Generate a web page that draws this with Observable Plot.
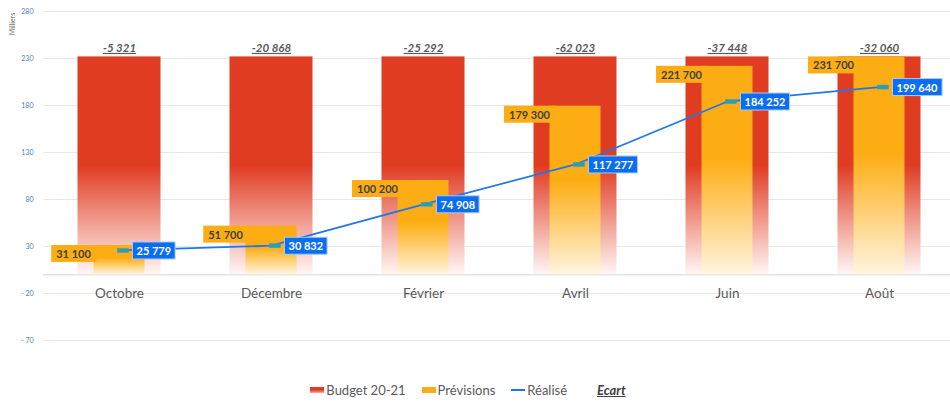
<!DOCTYPE html>
<html>
<head>
<meta charset="utf-8">
<script src="https://cdn.jsdelivr.net/npm/d3@7"></script>
<script src="https://cdn.jsdelivr.net/npm/@observablehq/plot@0.6"></script>
<style>
  body { margin: 0; background: #fff; font-family: Lato, sans-serif; }
  #chart svg { display: block; }
  #legend { height: 31px; display: flex; align-items: center; justify-content: center; font-size: 13px; color: #595959; padding-left: 0; box-sizing: border-box; padding-top: 4px; margin-left: -14px; }
  .item { display: flex; align-items: center; margin: 0 8px; }
  .sw { width: 14px; height: 6px; margin-right: 2px; }
</style>
</head>
<body>
<svg width="0" height="0" style="position:absolute">
  <defs>
    <linearGradient id="gradRed" x1="0" y1="0" x2="0" y2="1">
      <stop offset="0" stop-color="#E03C22"/>
      <stop offset="0.5" stop-color="#E03C22"/>
      <stop offset="1" stop-color="#FFF6F4"/>
    </linearGradient>
    <linearGradient id="gradOrange" x1="0" y1="0" x2="0" y2="1">
      <stop offset="0" stop-color="#FDAD14"/>
      <stop offset="0.45" stop-color="#FDAD14"/>
      <stop offset="1" stop-color="#FFF5E0"/>
    </linearGradient>
  </defs>
</svg>
<div id="chart"></div>
<div id="legend">
  <div class="item"><div class="sw" style="background:linear-gradient(#E03C22,#E03C22 50%,#f7b0a5)"></div>Budget 20-21</div>
  <div class="item"><div class="sw" style="background:#FDAD14"></div>Prévisions</div>
  <div class="item"><div class="sw" style="height:2px;background:#1F77F0"></div>Réalisé</div>
  <div class="item" style="margin-left:22px"><span style="font-weight:bold;font-style:italic;text-decoration:underline;color:#404040">Ecart</span></div>
</div>
<script>
const months = ["Octobre", "Décembre", "Février", "Avril", "Juin", "Août"];
const budget = [231700, 231700, 231700, 231700, 231700, 231700];
const previsions = [31100, 51700, 100200, 179300, 221700, 231700];
const realise = [25779, 30832, 74908, 117277, 184252, 199640];
const ecart = [-5321, -20868, -25292, -62023, -37448, -32060];
const yTicks = [-70000, -20000, 30000, 80000, 130000, 180000, 230000, 280000];

const data = months.map((m, i) => ({month: m, budget: budget[i], prev: previsions[i], real: realise[i], ecart: ecart[i]}));
const fmt = d3.formatLocale({decimal: ",", thousands: " ", grouping: [3], currency: ["", " €"], minus: "-"}).format(",d");

const plot = Plot.plot({
  width: 950,
  height: 372,
  marginTop: 11,
  marginBottom: 32,
  marginLeft: 43,
  marginRight: -5,
  style: {fontFamily: "Lato, sans-serif", background: "#fff"},
  x: {domain: months, padding: 0, axis: null},
  y: {domain: [-70000, 280000], ticks: yTicks, tickSize: 0, tickPadding: 10, label: null,
      tickFormat: d => d < 0 ? "- " + Math.abs(d / 1000) : String(d / 1000)},
  marks: [
    Plot.ruleY(yTicks, {stroke: "#E8E8E8", strokeWidth: 1}),
    Plot.ruleY([0], {stroke: "#E3E3E3", strokeWidth: 1.5}),
    Plot.barY(data, {x: "month", y: "budget", fill: "url(#gradRed)", insetLeft: 34.5, insetRight: 34.5}),
    Plot.barY(data, {x: "month", y: "prev", fill: "url(#gradOrange)", insetLeft: 50.5, insetRight: 50.5}),
    Plot.text(data, {x: "month", y: "prev", text: d => fmt(d.prev), dx: -46, dy: 9, lineAnchor: "middle",
      fill: "#404040", fontWeight: "bold", fontSize: 11, className: "lbl-prev"}),
    Plot.text(months, {x: d => d, text: d => d, frameAnchor: "bottom", dy: -47, lineAnchor: "middle",
      fill: "#595959", fontSize: 13.5}),
    Plot.line(data, {x: "month", y: "real", stroke: "#1F77F0", strokeWidth: 1.8}),
    Plot.dot(data, {x: "month", y: "real", symbol: "square", r: 0, className: "mk"}),
    Plot.text(data, {x: "month", y: "real", text: d => fmt(d.real), dx: 17, dy: 1, textAnchor: "start", lineAnchor: "middle",
      fill: "#fff", fontWeight: "bold", fontSize: 11, className: "lbl-real"}),
    Plot.text(data, {x: "month", y: "budget", text: d => fmt(d.ecart), dy: -5, lineAnchor: "bottom",
      fill: "#595959", fontWeight: "bold", fontStyle: "italic", fontSize: 11.5, className: "lbl-ecart"})
  ]
});
document.getElementById("chart").appendChild(plot);

const svg = d3.select(plot);
svg.selectAll('[aria-label^="y-axis"] text').attr("fill", "#5B7DC0").attr("font-size", 7);
svg.selectAll(".lbl-ecart text").style("text-decoration", "underline");

// boxes behind labels
function boxes(cls, fill, stroke, padX) {
  svg.selectAll("." + cls + " text").each(function() {
    const b = this.getBBox();
    d3.select(this.parentNode).insert("rect", () => this)
      .attr("x", b.x - padX).attr("width", b.width + 2 * padX)
      .attr("y", b.y + b.height / 2 - 8.5).attr("height", 17)
      .attr("fill", fill).attr("stroke", stroke).attr("stroke-width", stroke === "none" ? 0 : 1)
      .attr("transform", this.getAttribute("transform"));
  });
}
boxes("lbl-prev", "#FDAD14", "none", 5);
boxes("lbl-real", "#0B6EF0", "#A9CBF7", 4);

// markers
svg.selectAll(".mk circle, .mk path").each(function() {
  const t = this.getAttribute("transform");
  let cx = +this.getAttribute("cx") || 0, cy = +this.getAttribute("cy") || 0;
  d3.select(this.parentNode).append("rect")
    .attr("x", cx - 2).attr("y", cy - 2).attr("width", 11).attr("height", 4)
    .attr("fill", "#27A3A6").attr("stroke", "#4A90E2").attr("stroke-width", 0.5)
    .attr("transform", t);
});

// Milliers label
svg.append("text").attr("transform", "translate(15,24) rotate(-90)").attr("text-anchor", "middle")
  .attr("font-size", 7).attr("fill", "#666").text("Milliers");
</script>
</body>
</html>
